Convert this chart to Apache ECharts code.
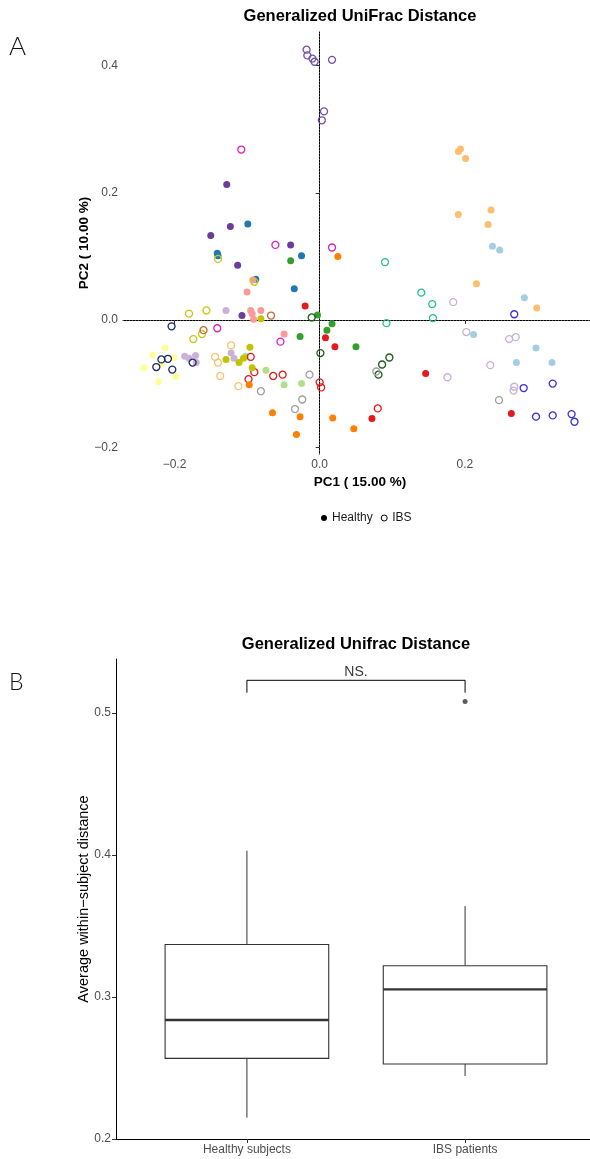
<!DOCTYPE html>
<html>
<head>
<meta charset="utf-8">
<script src="https://cdn.jsdelivr.net/npm/echarts@6/dist/echarts.min.js"></script>
<style>
  html, body { margin: 0; padding: 0; background: #fff; overflow: hidden; }
  #chart { width: 590px; height: 1159px; }
</style>
</head>
<body>
<div id="chart"></div>
<script>
// ---- Panel A: PCoA of generalized UniFrac distances, [PC1, PC2] per sample ----
const purpleHealthy = [[-0.128, 0.213], [-0.123, 0.147], [-0.150, 0.133], [-0.113, 0.086], [-0.040, 0.118], [-0.107, 0.007]];
const purpleIBS = [[-0.018, 0.425], [-0.017, 0.416], [-0.010, 0.411], [-0.007, 0.406], [0.017, 0.409], [0.006, 0.328], [0.003, 0.314]];
const blueHealthy = [[-0.141, 0.105], [-0.140, 0.101], [-0.099, 0.151], [-0.088, 0.064], [-0.035, 0.049], [-0.025, 0.101]];
const lightBlueHealthy = [[0.238, 0.116], [0.248, 0.110], [0.282, 0.035], [0.212, -0.023], [0.298, -0.044], [0.271, -0.067], [0.320, -0.067]];
const greenHealthy = [[-0.040, 0.093], [-0.003, 0.008], [-0.027, -0.026], [0.010, -0.016], [0.017, -0.006], [0.050, -0.042]];
const lightGreenHealthy = [[-0.102, -0.057], [-0.074, -0.079], [-0.049, -0.102], [-0.025, -0.100]];
const redHealthy = [[-0.020, 0.022], [0.008, -0.028], [0.021, -0.042], [0.146, -0.084], [0.072, -0.155], [0.264, -0.147]];
const redIBS = [[-0.095, -0.058], [-0.090, -0.082], [-0.098, -0.093], [-0.064, -0.088], [-0.051, -0.086], [0.000, -0.098], [0.002, -0.106], [0.080, -0.139]];
const pinkHealthy = [[-0.092, 0.063], [-0.100, 0.044], [-0.095, 0.015], [-0.093, 0.010], [-0.091, 0.001], [-0.081, 0.015], [-0.049, -0.022]];
const orangeHealthy = [[0.025, 0.100], [-0.097, -0.102], [-0.065, -0.146], [-0.027, -0.152], [-0.032, -0.180], [0.018, -0.154], [0.047, -0.171]];
const apricotHealthy = [[0.194, 0.269], [0.191, 0.265], [0.201, 0.254], [0.191, 0.166], [0.236, 0.173], [0.232, 0.150], [0.216, 0.057], [0.299, 0.019]];
const apricotIBS = [[-0.122, -0.040], [-0.144, -0.058], [-0.140, -0.067], [-0.137, -0.088], [-0.112, -0.104]];
const lavenderHealthy = [[-0.129, 0.015], [-0.186, -0.057], [-0.180, -0.060], [-0.171, -0.056], [-0.170, -0.067], [-0.122, -0.052], [-0.118, -0.060]];
const lavenderIBS = [[0.184, 0.028], [0.202, -0.019], [0.261, -0.030], [0.270, -0.027], [0.235, -0.071], [0.176, -0.090], [0.268, -0.105], [0.267, -0.111]];
const yellowHealthy = [[-0.213, -0.044], [-0.230, -0.055], [-0.201, -0.059], [-0.242, -0.075], [-0.218, -0.069], [-0.198, -0.089], [-0.222, -0.097]];
const oliveHealthy = [[-0.081, 0.002], [-0.096, -0.043], [-0.129, -0.062], [-0.111, -0.067], [-0.105, -0.060], [-0.093, -0.075]];
const oliveIBS = [[-0.140, 0.096], [-0.090, 0.060], [-0.180, 0.010], [-0.156, 0.015], [-0.162, -0.022], [-0.174, -0.030]];
const navyIBS = [[-0.204, -0.010], [-0.218, -0.062], [-0.209, -0.061], [-0.225, -0.074], [-0.203, -0.078], [-0.175, -0.067]];
const magentaIBS = [[-0.108, 0.268], [-0.061, 0.118], [0.017, 0.114], [-0.141, -0.013], [-0.054, -0.034]];
const brownIBS = [[-0.067, 0.007], [-0.160, -0.016]];
const tealIBS = [[0.090, 0.091], [0.140, 0.043], [0.155, 0.025], [0.156, 0.003], [0.092, -0.005]];
const darkGreenIBS = [[-0.011, 0.004], [0.001, -0.052], [0.096, -0.059], [0.086, -0.070], [0.081, -0.086]];
const greyIBS = [[-0.081, -0.112], [-0.014, -0.086], [-0.024, -0.125], [-0.034, -0.140], [0.078, -0.081], [0.247, -0.126]];
const violetIBS = [[0.268, 0.009], [0.281, -0.107], [0.321, -0.100], [0.298, -0.152], [0.321, -0.150], [0.347, -0.148], [0.351, -0.160]];

const pc1Ticks = [-0.2, 0.0, 0.2];
const pc2Ticks = [-0.2, 0.0, 0.2, 0.4];

// ---- Panel B: average within-subject distance ----
const boxCategories = ['Healthy subjects', 'IBS patients'];
const boxLowerWhisker = [0.215, 0.2444];
const boxQ1 = [0.2568, 0.2528];
const boxMedian = [0.2838, 0.3054];
const boxQ3 = [0.337, 0.322];
const boxUpperWhisker = [0.403, 0.364];
const ibsOutliers = [0.508];
const distTicks = [0.2, 0.3, 0.4, 0.5];
const bracketTop = 0.523;
const bracketFoot = 0.5143;
const testLabel = 'NS.';

// sample groups: data, colour, status
const pcoaSets = [
  [purpleHealthy, '#6a3d9a', 'Healthy'],
  [purpleIBS, '#7350ab', 'IBS'],
  [blueHealthy, '#1f78b4', 'Healthy'],
  [lightBlueHealthy, '#a6cee3', 'Healthy'],
  [greenHealthy, '#33a02c', 'Healthy'],
  [lightGreenHealthy, '#b2df8a', 'Healthy'],
  [redHealthy, '#e31a1c', 'Healthy'],
  [redIBS, '#e31a1c', 'IBS'],
  [pinkHealthy, '#fb9a99', 'Healthy'],
  [orangeHealthy, '#ff7f00', 'Healthy'],
  [apricotHealthy, '#fdbf6f', 'Healthy'],
  [apricotIBS, '#fdbf6f', 'IBS'],
  [lavenderHealthy, '#cab2d6', 'Healthy'],
  [lavenderIBS, '#cab2d6', 'IBS'],
  [yellowHealthy, '#ffff99', 'Healthy'],
  [oliveHealthy, '#c2c300', 'Healthy'],
  [oliveIBS, '#c8c81a', 'IBS'],
  [navyIBS, '#1a2a6c', 'IBS'],
  [magentaIBS, '#dd22c0', 'IBS'],
  [brownIBS, '#c0693e', 'IBS'],
  [tealIBS, '#25c08c', 'IBS'],
  [darkGreenIBS, '#1e5a1e', 'IBS'],
  [greyIBS, '#a0a0a0', 'IBS'],
  [violetIBS, '#3b30d8', 'IBS']
];

const FONT = '"Liberation Sans", Arial, Helvetica, sans-serif';
const fmt1 = v => v.toFixed(1).replace('-', '\u2212');

const scatterSeries = pcoaSets.map(([pts, color, status], i) => {
  const s = {
    type: 'scatter',
    name: status,
    xAxisIndex: 0,
    yAxisIndex: 0,
    data: pts,
    symbol: 'circle',
    symbolSize: 7,
    itemStyle: status === 'Healthy'
      ? { color: color, opacity: 1 }
      : { color: 'rgba(255,255,255,0)', borderColor: color, borderWidth: 1.3, opacity: 1 },
    emphasis: { disabled: true },
    z: 3
  };
  if (i === 0) {
    s.markLine = {
      silent: true,
      symbol: ['none', 'none'],
      label: { show: false },
      lineStyle: { color: '#555', width: 1, type: [1, 2] },
      data: [{ xAxis: 0 }, { yAxis: 0 }],
      z: 1
    };
  }
  return s;
});

const chart = echarts.init(document.getElementById('chart'), null, { renderer: 'canvas' });

const axisCommon = {
  axisLine: { show: true, lineStyle: { color: '#000', width: 1 } },
  axisTick: { show: true, length: 4, lineStyle: { color: '#333', width: 1 } },
  splitLine: { show: false },
  axisLabel: { color: '#4d4d4d', fontSize: 12, fontFamily: FONT }
};

chart.setOption({
  animation: false,
  backgroundColor: '#fff',
  textStyle: { fontFamily: FONT },
  grid: [
    { left: 123, top: 32, width: 474, height: 422, containLabel: false, outerBoundsMode: 'none' },
    { left: 116, top: 659, width: 480, height: 480, containLabel: false, outerBoundsMode: 'none' }
  ],
  xAxis: [
    Object.assign({}, axisCommon, {
      gridIndex: 0, type: 'value', min: -0.2709, max: 0.382,
      axisTick: Object.assign({}, axisCommon.axisTick, { customValues: pc1Ticks }),
      axisLabel: Object.assign({}, axisCommon.axisLabel, { customValues: pc1Ticks, formatter: fmt1, margin: 5 }),
      name: 'PC1 ( 15.00 %)', nameLocation: 'middle', nameGap: 21, nameMoveOverlap: false,
      nameTextStyle: { fontSize: 13.5, fontWeight: 'bold', color: '#000', fontFamily: FONT }
    }),
    Object.assign({}, axisCommon, {
      gridIndex: 1, type: 'value', min: 0.4, max: 2.6,
      axisTick: Object.assign({}, axisCommon.axisTick, { customValues: [1, 2] }),
      axisLabel: Object.assign({}, axisCommon.axisLabel, {
        customValues: [1, 2], margin: 5,
        formatter: v => boxCategories[Math.round(v) - 1]
      })
    })
  ],
  yAxis: [
    Object.assign({}, axisCommon, {
      gridIndex: 0, type: 'value', min: -0.2107, max: 0.4528,
      axisTick: Object.assign({}, axisCommon.axisTick, { customValues: pc2Ticks }),
      axisLabel: Object.assign({}, axisCommon.axisLabel, { customValues: pc2Ticks, formatter: fmt1, margin: 5 }),
      name: 'PC2 ( 10.00 %)', nameLocation: 'middle', nameGap: 32, nameRotate: 90, nameMoveOverlap: false,
      nameTextStyle: { fontSize: 13.5, fontWeight: 'bold', color: '#000', fontFamily: FONT }
    }),
    Object.assign({}, axisCommon, {
      gridIndex: 1, type: 'value', min: 0.2, max: 0.538,
      axisTick: Object.assign({}, axisCommon.axisTick, { customValues: distTicks }),
      axisLabel: Object.assign({}, axisCommon.axisLabel, { customValues: distTicks, formatter: fmt1, margin: 5 }),
      name: 'Average within\u2212subject distance', nameLocation: 'middle', nameGap: 25, nameRotate: 90, nameMoveOverlap: false,
      nameTextStyle: { fontSize: 14.5, color: '#000', fontFamily: FONT }
    })
  ],
  legend: {
    left: 316, top: 507, orient: 'horizontal',
    itemWidth: 6, itemHeight: 6, itemGap: 8,
    selectedMode: false,
    textStyle: { fontSize: 12, color: '#1a1a1a', fontFamily: FONT },
    data: [
      { name: 'Healthy', icon: 'circle', itemStyle: { color: '#000', borderWidth: 0 } },
      { name: 'IBS', icon: 'circle', itemStyle: { color: '#fff', borderColor: '#000', borderWidth: 1 } }
    ]
  },
  graphic: [
    { type: 'text', x: 9, y: 47, style: { text: 'A', font: '300 26px Lato, "Open Sans", sans-serif', fill: '#111', textVerticalAlign: 'middle' } },
    { type: 'text', x: 9, y: 683, style: { text: 'B', font: '300 23px Lato, "Open Sans", sans-serif', fill: '#111', textVerticalAlign: 'middle' } },
    { type: 'text', x: 360, y: 16.5, style: { text: 'Generalized UniFrac Distance', font: 'bold 16.5px ' + FONT, fill: '#000', textAlign: 'center', textVerticalAlign: 'middle' } },
    { type: 'text', x: 356, y: 644, style: { text: 'Generalized Unifrac Distance', font: 'bold 16.5px ' + FONT, fill: '#000', textAlign: 'center', textVerticalAlign: 'middle' } }
  ],
  series: scatterSeries.concat([
    {
      type: 'custom',
      name: 'box',
      xAxisIndex: 1, yAxisIndex: 1,
      data: boxCategories.map((c, i) => [i + 1, boxLowerWhisker[i], boxQ1[i], boxMedian[i], boxQ3[i], boxUpperWhisker[i]]),
      encode: { x: 0, y: [1, 2, 3, 4, 5] },
      renderItem: (params, api) => {
        const x = api.value(0);
        const cx = api.coord([x, api.value(3)])[0];
        const yLo = api.coord([x, api.value(1)])[1];
        const yQ1 = api.coord([x, api.value(2)])[1];
        const yMed = api.coord([x, api.value(3)])[1];
        const yQ3 = api.coord([x, api.value(4)])[1];
        const yHi = api.coord([x, api.value(5)])[1];
        const half = api.size([0.75, 0])[0] / 2;
        const stroke = '#333';
        return {
          type: 'group',
          children: [
            { type: 'line', shape: { x1: cx, y1: yHi, x2: cx, y2: yQ3 }, style: { stroke: stroke, lineWidth: 1 } },
            { type: 'line', shape: { x1: cx, y1: yQ1, x2: cx, y2: yLo }, style: { stroke: stroke, lineWidth: 1 } },
            { type: 'rect', shape: { x: cx - half, y: yQ3, width: half * 2, height: yQ1 - yQ3 }, style: { fill: '#fff', stroke: stroke, lineWidth: 1.1 } },
            { type: 'line', shape: { x1: cx - half, y1: yMed, x2: cx + half, y2: yMed }, style: { stroke: stroke, lineWidth: 2.3 } }
          ]
        };
      },
      z: 2
    },
    {
      type: 'scatter', name: 'outlier',
      xAxisIndex: 1, yAxisIndex: 1,
      data: ibsOutliers.map(v => [2, v]),
      symbol: 'circle', symbolSize: 5,
      itemStyle: { color: '#333' },
      z: 3
    },
    {
      type: 'line', name: 'bracket',
      xAxisIndex: 1, yAxisIndex: 1,
      data: [[1, bracketFoot], [1, bracketTop], [2, bracketTop], [2, bracketFoot]],
      symbol: 'none',
      lineStyle: { color: '#000', width: 1 },
      z: 3
    },
    {
      type: 'scatter', name: 'test',
      xAxisIndex: 1, yAxisIndex: 1,
      data: [[1.5, bracketTop]],
      symbolSize: 0,
      label: { show: true, position: 'top', distance: 1, formatter: testLabel, fontSize: 14, color: '#000', fontFamily: FONT },
      z: 3
    }
  ])
});
</script>
</body>
</html>
